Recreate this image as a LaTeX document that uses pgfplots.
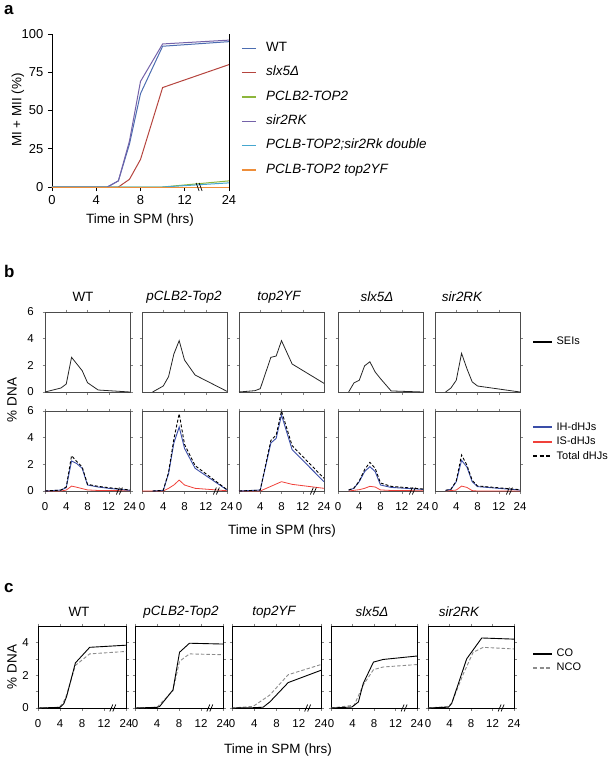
\documentclass[border=0pt]{standalone}
\usepackage{pgfplots}
\pgfplotsset{compat=1.18}
\usepackage{fontspec}
\setmainfont{Liberation Sans}
\definecolor{aWT}{HTML}{4C6DB1}
\definecolor{aSLX}{HTML}{B5443E}
\definecolor{aGRN}{HTML}{8DB63C}
\definecolor{aPUR}{HTML}{7462A9}
\definecolor{aCYN}{HTML}{46A7CF}
\definecolor{aORG}{HTML}{EE8E3A}
\definecolor{cIH}{HTML}{3A4DA8}
\definecolor{cIS}{HTML}{F0413A}
\newcommand{\fbrk}[1]{%
 \draw[black, line width=0.7bp] ([xshift=-3bp,yshift=-3.5bp]axis cs:#1,0) -- ([xshift=0bp,yshift=3.5bp]axis cs:#1,0);
 \draw[black, line width=0.7bp] ([xshift=0bp,yshift=-3.5bp]axis cs:#1,0) -- ([xshift=3bp,yshift=3.5bp]axis cs:#1,0);}
\newcommand{\bbrk}[1]{%
 \draw[black, line width=0.7bp] ([xshift=-3bp,yshift=4bp]axis cs:#1,0) -- ([xshift=0bp,yshift=-4bp]axis cs:#1,0);
 \draw[black, line width=0.7bp] ([xshift=0bp,yshift=4bp]axis cs:#1,0) -- ([xshift=3bp,yshift=-4bp]axis cs:#1,0);}
\pgfplotsset{
 every axis/.append style={scale only axis, anchor=south west, clip=false,
   tick label style={font=\fontsize{11.5}{13}\selectfont},
   /pgf/number format/assume math mode=true},
 bpan/.style={width=85bp, height=80bp, xmin=0,xmax=16,ymin=0,ymax=6,
   xtick={4,8,12}, ytick={2,4}, xticklabels={}, yticklabels={},
   tick align=outside, major tick length=2.5bp,
   xticklabel style={yshift=-4bp}, yticklabel style={xshift=-4bp},
   tick style={black!50, line width=0.4bp}, axis line style={black!70, line width=0.6bp}},
 blab/.style={xtick={0,4,8,12,16}, xticklabels={0,4,8,12,24}},
 ylab6/.style={ytick={0,2,4,6}, yticklabels={0,2,4,6}},
 cpan/.style={height=82bp, xmin=0,xmax=16,ymin=0,ymax=5,
   xtick={0,4,8,12,16}, xticklabels={0,4,8,12,24}, ytick={0,1,2,3,4}, yticklabels={},
   tick align=outside, major tick length=2.5bp,
   xticklabel style={yshift=-4bp}, yticklabel style={xshift=-2bp},
   tick style={black!50, line width=0.4bp}, axis line style={black, line width=0.7bp}},
 ylab4/.style={yticklabels={0,,2,,4}},
 sei/.style={black!85, line width=0.8bp, forget plot},
 ih/.style={cIH, line width=0.9bp, forget plot},
 is/.style={cIS, line width=0.8bp, forget plot},
 tot/.style={black, line width=0.9bp, dash pattern=on 3bp off 2bp, forget plot},
 co/.style={black, line width=0.9bp, forget plot},
 nco/.style={black!45, line width=0.9bp, dash pattern=on 3.5bp off 2bp, forget plot},
 smallleg/.style={legend style={draw=none, fill=none, inner sep=0pt, font=\fontsize{11}{13}\selectfont,
   row sep=3bp, column sep=3bp, nodes={inner sep=0.5bp, text height=8bp, text depth=2.5bp}},
   legend cell align=left,
   legend image code/.code={\draw[##1] (0bp,0bp) -- (19bp,0bp);}},
}
\begin{document}
\fontsize{13.5}{15}\selectfont
\begin{tikzpicture}
\path[use as bounding box] (0,0) rectangle (613bp,-762bp);
% panel labels
\node[anchor=north west, font=\bfseries\fontsize{17}{18}\selectfont, inner sep=0pt] at (4bp,-5bp) {a};
\node[anchor=north west, font=\bfseries\fontsize{17}{18}\selectfont, inner sep=0pt] at (4bp,-265bp) {b};
\node[anchor=north west, font=\bfseries\fontsize{17}{18}\selectfont, inner sep=0pt] at (4bp,-583bp) {c};

% ---------------- panel a
\node[rotate=90] at (18bp,-110bp) {MI + MII (\%)};
\node at (140bp,-220bp) {Time in SPM (hrs)};
\begin{axis}[at={(52bp,-187bp)}, width=177bp, height=153bp, xmin=0,xmax=16,ymin=0,ymax=100,
 axis x line*=bottom, axis y line*=left, axis line style={-, black, line width=0.9bp},
 xtick={0,4,8,12,16}, xticklabels={0,4,8,12,24}, ytick={0,25,50,75,100},
 tick align=outside, major tick length=4bp, tick style={black, line width=0.8bp},
 tick label style={font=\fontsize{13}{14}\selectfont},
 legend style={at={(1.068,0.955)}, anchor=north west, draw=none, fill=none, inner sep=0pt,
   font=\fontsize{13.5}{15}\selectfont, row sep=9.8bp, column sep=9bp,
   nodes={inner sep=0.5bp, text height=10bp, text depth=3.5bp}},
 legend cell align=left,
 legend image code/.code={\draw[#1, line width=1.4bp] (0bp,0bp) -- (14bp,0bp);},
]
\addplot[aWT, line width=1bp] coordinates {(0,0)(5,0)(6,4)(7,28)(8,61)(10,92)(16,95)};
\addlegendentry{WT}
\addplot[aSLX, line width=1bp] coordinates {(0,0)(6,0)(7,5)(8,18)(10,65)(16,80)};
\addlegendentry{\textit{slx5Δ}}
\addplot[aGRN, line width=1bp] coordinates {(0,0)(10,0)(16,4)};
\addlegendentry{\textit{PCLB2-TOP2}}
\addplot[aPUR, line width=1bp] coordinates {(0,0)(5,0)(6,4)(7,30)(8,69)(10,93.5)(16,96)};
\addlegendentry{\textit{sir2RK}}
\addplot[aCYN, line width=1bp] coordinates {(0,0)(10,0)(16,2.7)};
\addlegendentry{\textit{PCLB-TOP2;sir2Rk double}}
\addplot[aORG, line width=1bp] coordinates {(0,0)(16,0)};
\addlegendentry{\textit{PCLB-TOP2 top2YF}}
\draw[black, line width=0.9bp] (rel axis cs:1,0) -- (rel axis cs:1,1);
\bbrk{13.3}
\end{axis}

% ---------------- panel b, top row (SEIs)
\node at (83bp,-297bp) {WT};
\node at (184bp,-297bp) {\itshape pCLB2-Top2};
\node at (279bp,-297bp) {\itshape top2YF};
\node at (377bp,-297bp) {\itshape slx5Δ};
\node at (462bp,-297bp) {\itshape sir2RK};
\node[rotate=90] at (12bp,-400bp) {\% DNA};
\node at (282bp,-531bp) {Time in SPM (hrs)};

\begin{axis}[bpan, ylab6, at={(45bp,-392bp)}]
\addplot[sei] coordinates {(0,0)(3,0.3)(4,0.6)(5,2.6)(6,2.1)(7,1.6)(8,0.7)(10,0.15)(12,0.1)(16,0)};
\end{axis}
\begin{axis}[bpan, at={(142bp,-392bp)}]
\addplot[sei] coordinates {(2,0)(4,0.45)(5,1.15)(6,2.85)(7,3.85)(8,2.4)(10,1.27)(16,0.05)};
\end{axis}
\begin{axis}[bpan, at={(239bp,-392bp)}]
\addplot[sei] coordinates {(0,0)(3,0.1)(4,0.25)(6,2.6)(7,2.7)(8,3.85)(10,2.1)(16,0.65)};
\end{axis}
\begin{axis}[bpan, at={(338bp,-392bp)}]
\addplot[sei] coordinates {(2,0)(3,0.68)(4,0.88)(5,1.96)(6,2.27)(7,1.5)(8,1.0)(10,0.08)(16,0)};
\end{axis}
\begin{axis}[bpan, at={(435bp,-392bp)}, smallleg, legend style={at={(1.141,0.625)}, anchor=west}]
\addplot[sei] coordinates {(2,0)(3,0.3)(4,0.88)(5,2.9)(6,1.76)(7,0.76)(8,0.45)(16,0)};
\addlegendimage{black, line width=2bp}
\addlegendentry{SEIs}
\end{axis}

% ---------------- panel b, bottom row (dHJs)
\begin{axis}[bpan, blab, ylab6, at={(45bp,-491bp)}]
\addplot[is] coordinates {(0,0)(3,0)(4,0.07)(5,0.37)(6,0.28)(7,0.18)(8,0.08)(10,0.04)(16,0.02)};
\addplot[ih] coordinates {(0,0)(3,0.07)(4,0.25)(5,2.25)(6,2.05)(7,1.7)(8,0.45)(10,0.3)(12,0.2)(16,0.05)};
\addplot[tot] coordinates {(0,0)(3,0.07)(4,0.3)(5,2.65)(6,2.2)(7,1.8)(8,0.5)(10,0.35)(12,0.25)(16,0.08)};
\fbrk{14}
\end{axis}
\begin{axis}[bpan, blab, at={(142bp,-491bp)}]
\addplot[is] coordinates {(0,0)(4,0)(5,0.2)(6,0.45)(7,0.82)(8,0.45)(10,0.2)(16,0.02)};
\addplot[ih] coordinates {(2,0)(4,0.05)(5,1.3)(6,3.6)(7,4.8)(8,3.2)(10,1.7)(16,0.08)};
\addplot[tot] coordinates {(2,0)(4,0.05)(5,1.4)(6,3.9)(7,5.8)(8,3.5)(10,1.9)(16,0.1)};
\fbrk{14}
\end{axis}
\begin{axis}[bpan, blab, at={(239bp,-491bp)}]
\addplot[is] coordinates {(0,0)(4,0)(6,0.35)(8,0.7)(10,0.5)(16,0.2)};
\addplot[ih] coordinates {(0,0)(4,0.07)(6,3.6)(7,3.95)(8,5.7)(10,3.1)(16,0.7)};
\addplot[tot] coordinates {(0,0)(4,0.07)(6,3.8)(7,4.2)(8,6.0)(10,3.4)(16,0.95)};
\fbrk{14}
\end{axis}
\begin{axis}[bpan, blab, at={(338bp,-491bp)}]
\addplot[is] coordinates {(2,0)(4,0.1)(5,0.2)(6,0.35)(7,0.3)(8,0.08)(10,0.04)(16,0.02)};
\addplot[ih] coordinates {(2,0.07)(3,0.2)(4,0.7)(5,1.45)(6,1.83)(7,1.45)(8,0.45)(10,0.27)(16,0.12)};
\addplot[tot] coordinates {(2,0.07)(3,0.22)(4,0.75)(5,1.6)(6,2.15)(7,1.7)(8,0.6)(10,0.35)(16,0.15)};
\fbrk{14}
\end{axis}
\begin{axis}[bpan, blab, at={(435bp,-491bp)}, smallleg, legend style={at={(1.141,0.869)}, anchor=north west}]
\addplot[is] coordinates {(2,0)(4,0.07)(5,0.37)(6,0.27)(7,0.03)(8,0)(16,0)};
\addplot[ih] coordinates {(2,0.05)(3,0.12)(4,0.7)(5,2.3)(6,1.8)(7,0.7)(8,0.33)(16,0.07)};
\addplot[tot] coordinates {(2,0.05)(3,0.13)(4,0.75)(5,2.7)(6,1.95)(7,0.8)(8,0.38)(16,0.1)};
\fbrk{14}
\addlegendimage{cIH, line width=2bp}
\addlegendentry{IH-dHJs}
\addlegendimage{cIS, line width=2bp}
\addlegendentry{IS-dHJs}
\addlegendimage{black, line width=2bp, dash pattern=on 4bp off 2.5bp}
\addlegendentry{Total dHJs}
\end{axis}

% ---------------- panel c
\node at (79bp,-612bp) {WT};
\node at (181bp,-612bp) {\itshape pCLB2-Top2};
\node at (274bp,-612bp) {\itshape top2YF};
\node at (372bp,-612bp) {\itshape slx5Δ};
\node at (459bp,-612bp) {\itshape sir2RK};
\node[rotate=90] at (12bp,-667bp) {\% DNA};
\node at (278bp,-750bp) {Time in SPM (hrs)};

\begin{axis}[cpan, ylab4, width=88bp, at={(38bp,-708bp)}]
\addplot[nco] coordinates {(0,0)(3.8,0.05)(4.5,0.27)(5.1,0.7)(6.8,2.6)(9.4,3.3)(16,3.45)};
\addplot[co] coordinates {(0,0)(4,0.04)(4.7,0.27)(5.2,0.7)(6.8,2.75)(9.4,3.7)(16,3.83)};
\fbrk{13.6}
\end{axis}
\begin{axis}[cpan, width=88bp, at={(135bp,-708bp)}]
\addplot[nco] coordinates {(0,0)(4,0.05)(6.9,1.05)(8.1,2.85)(9.9,3.3)(16,3.25)};
\addplot[co] coordinates {(0,0)(4,0.04)(4.5,0.1)(6.9,1.1)(8.1,3.4)(9.9,3.95)(16,3.9)};
\fbrk{13.6}
\end{axis}
\begin{axis}[cpan, width=89bp, at={(232bp,-708bp)}]
\addplot[nco] coordinates {(0,0)(3.8,0.1)(6.8,0.79)(10.1,2.03)(16,2.65)};
\addplot[co] coordinates {(0,0)(4,0.02)(5.6,0.05)(6.8,0.37)(10.1,1.55)(16,2.3)};
\fbrk{13.6}
\end{axis}
\begin{axis}[cpan, width=86bp, at={(331bp,-708bp)}]
\addplot[nco] coordinates {(0,0)(4.3,0.17)(6,1.4)(7.9,2.34)(9.7,2.5)(16,2.65)};
\addplot[co] coordinates {(0,0)(3.9,0.06)(5.1,0.37)(6,1.5)(7.9,2.8)(9.7,2.96)(16,3.17)};
\fbrk{13.6}
\end{axis}
\begin{axis}[cpan, width=86bp, at={(428bp,-708bp)}, smallleg, legend style={at={(1.209,0.735)}, anchor=north west}]
\addplot[nco] coordinates {(0,0)(3.8,0.1)(4.4,0.3)(6.6,2.1)(8.4,3.4)(10.3,3.7)(16,3.6)};
\addplot[co] coordinates {(0,0)(3.8,0.05)(4.4,0.27)(7.2,3.0)(10,4.27)(16,4.2)};
\fbrk{13.6}
\addlegendimage{black, line width=2bp}
\addlegendentry{CO}
\addlegendimage{black!45, line width=2bp, dash pattern=on 4bp off 2.5bp}
\addlegendentry{NCO}
\end{axis}
\end{tikzpicture}
\end{document}
